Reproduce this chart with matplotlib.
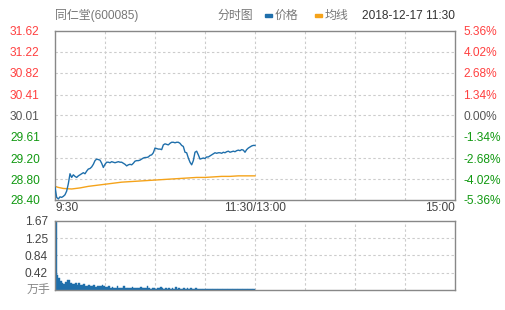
import matplotlib
matplotlib.use('Agg')
import matplotlib.pyplot as plt
from matplotlib.patches import Rectangle
import numpy as np

plt.rcParams['font.family'] = ['Liberation Sans', 'Noto Sans CJK SC', 'DejaVu Sans']

# ---- data ----
stock_name = "同仁堂(600085)"
chart_date = "2018-12-17 11:30"
pre_close = 30.01

# minute prices 9:30 -> 11:30 (121 points)
price = [
    28.64, 28.45, 28.42, 28.46, 28.45, 28.47, 28.50, 28.57, 28.71, 28.90,
    28.83, 28.88, 28.85, 28.83, 28.86, 28.88, 28.90, 28.92, 28.90, 28.95,
    28.99, 29.00, 29.03, 29.08, 29.15, 29.18, 29.17, 29.16, 29.10, 29.02,
    29.08, 29.12, 29.12, 29.11, 29.13, 29.12, 29.11, 29.12, 29.13, 29.12,
    29.12, 29.10, 29.08, 29.05, 29.07, 29.08, 29.07, 29.10, 29.14, 29.15,
    29.15, 29.16, 29.18, 29.20, 29.21, 29.21, 29.22, 29.25, 29.26, 29.30,
    29.39, 29.38, 29.37, 29.37, 29.36, 29.45, 29.47, 29.46, 29.45, 29.48,
    29.50, 29.50, 29.49, 29.50, 29.50, 29.48, 29.44, 29.42, 29.31, 29.30,
    29.20, 29.12, 29.07, 29.15, 29.31, 29.33, 29.26, 29.18, 29.19, 29.20,
    29.19, 29.22, 29.22, 29.24, 29.26, 29.28, 29.30, 29.29, 29.30, 29.30,
    29.29, 29.31, 29.30, 29.32, 29.33, 29.31, 29.32, 29.33, 29.32, 29.34,
    29.35, 29.34, 29.36, 29.35, 29.31, 29.36, 29.39, 29.41, 29.43, 29.44,
    29.44,
]

# average line, sampled minutes
avg_min = [0, 2, 5, 10, 15, 20, 25, 30, 35, 40, 45, 50, 55, 60, 65, 70,
           75, 80, 85, 90, 95, 100, 105, 110, 115, 120]
avg_price = [28.66, 28.64, 28.62, 28.61, 28.63, 28.66, 28.68, 28.70, 28.72,
             28.74, 28.75, 28.76, 28.77, 28.78, 28.79, 28.80, 28.81, 28.82,
             28.83, 28.83, 28.84, 28.85, 28.85, 28.86, 28.86, 28.86]

# volume per minute (万手)
volume = [
    1.67, 0.36, 0.30, 0.22, 0.16, 0.14, 0.20, 0.25, 0.24, 0.18,
    0.15, 0.14, 0.17, 0.13, 0.16, 0.12, 0.11, 0.14, 0.10, 0.09,
    0.13, 0.10, 0.09, 0.11, 0.08, 0.10, 0.09, 0.10, 0.12, 0.09,
    0.08, 0.07, 0.09, 0.06, 0.07, 0.05, 0.06, 0.10, 0.05, 0.06,
    0.05, 0.09, 0.05, 0.04, 0.06, 0.05, 0.08, 0.05, 0.04, 0.05,
    0.04, 0.07, 0.04, 0.05, 0.04, 0.09, 0.04, 0.03, 0.05, 0.04,
    0.03, 0.06, 0.04, 0.08, 0.04, 0.03, 0.04, 0.03, 0.05, 0.03,
    0.04, 0.03, 0.07, 0.03, 0.04, 0.03, 0.03, 0.04, 0.03, 0.06,
    0.03, 0.04, 0.03, 0.03, 0.04, 0.02, 0.03, 0.02, 0.02, 0.03,
    0.02, 0.02, 0.03, 0.02, 0.02, 0.02, 0.03, 0.02, 0.02, 0.02,
    0.02, 0.02, 0.02, 0.03, 0.02, 0.02, 0.02, 0.02, 0.02, 0.02,
    0.02, 0.02, 0.02, 0.02, 0.02, 0.02, 0.02, 0.02, 0.02, 0.02,
]

price_ticks = [31.62, 31.22, 30.82, 30.41, 30.01, 29.61, 29.20, 28.80, 28.40]
pct_labels = ["5.36%", "4.02%", "2.68%", "1.34%", "0.00%",
              "-1.34%", "-2.68%", "-4.02%", "-5.36%"]
vol_ticks = [1.67, 1.25, 0.84, 0.42]
time_labels = ["9:30", "11:30/13:00", "15:00"]

# ---- style ----
W, H = 505, 310
BLUE = '#1f6fab'
ORANGE = '#f5a31a'
RED = '#ff4040'
GREEN = '#119911'
GRID = '#cccccc'
FS = 8.6


def fx(x):
    return x / W


def fy(y):
    return 1 - y / H


def tick_color(v):
    if v > pre_close + 1e-6:
        return RED
    if v < pre_close - 1e-6:
        return GREEN
    return '#555555'


fig = plt.figure(figsize=(W / 100, H / 100), dpi=100)

ax = fig.add_axes([fx(55), fy(200), fx(400), 169 / H])
axv = fig.add_axes([fx(55), fy(290), fx(400), 69 / H])

for a in (ax, axv):
    a.set_xlim(0, 240)
    for s in a.spines.values():
        s.set_color('#888888')
        s.set_linewidth(1.0)
    a.tick_params(length=0)
    a.set_xticks([])
    for xv in range(30, 240, 30):
        a.axvline(xv, color=GRID, lw=0.8, ls=(0, (2.2, 2.2)), zorder=0)

# price panel
ax.set_ylim(price_ticks[-1], price_ticks[0])
for v in price_ticks[1:-1]:
    ax.axhline(v, color=GRID, lw=0.8, ls=(0, (2.2, 2.2)), zorder=0)
ax.plot(np.arange(len(price)), price, color=BLUE, lw=1.0, zorder=3)
ax.plot(avg_min, avg_price, color=ORANGE, lw=1.0, zorder=2)

ax.set_yticks(price_ticks)
ax.set_yticklabels(["%.2f" % v for v in price_ticks], fontsize=FS)
ax.tick_params(axis='y', pad=11)
for lab, v in zip(ax.get_yticklabels(), price_ticks):
    lab.set_color(tick_color(v))

ax2 = ax.twinx()
ax2.set_ylim(ax.get_ylim())
ax2.set_yticks(price_ticks)
ax2.set_yticklabels(pct_labels, fontsize=FS)
ax2.tick_params(length=0, pad=6)
for lab, v in zip(ax2.get_yticklabels(), price_ticks):
    lab.set_color(tick_color(v))
for s in ax2.spines.values():
    s.set_visible(False)

# time labels under price panel
tr = ax.get_xaxis_transform()
ax.text(0, -0.01, time_labels[0], transform=tr, ha='left', va='top',
        fontsize=FS, color='#444444')
ax.text(120, -0.01, time_labels[1], transform=tr, ha='center', va='top',
        fontsize=FS, color='#444444')
ax.text(240, -0.01, time_labels[2], transform=tr, ha='right', va='top',
        fontsize=FS, color='#444444')

# volume panel
axv.set_ylim(0, vol_ticks[0])
for v in vol_ticks[1:]:
    axv.axhline(v, color=GRID, lw=0.8, ls=(0, (2.2, 2.2)), zorder=0)
axv.bar(np.arange(len(volume)) + 0.5, volume, width=1.0, color=BLUE,
        edgecolor=BLUE, linewidth=0.3, zorder=2)
axv.set_yticks(vol_ticks)
axv.set_yticklabels(["%.2f" % v for v in vol_ticks], fontsize=FS,
                    color='#444444')
axv.tick_params(axis='y', pad=5)
fig.text(fx(50), fy(291), "万手", ha='right', va='center', fontsize=FS,
         color='#888888')

# header
fig.text(fx(55), fy(16), stock_name, ha='left', va='center', fontsize=FS,
         color='#777777')
fig.text(fx(218), fy(16), "分时图", ha='left', va='center', fontsize=FS,
         color='#777777')
fig.add_artist(Rectangle((fx(265), fy(17)), fx(7), 3 / H, color=BLUE,
                         transform=fig.transFigure))
fig.text(fx(275), fy(16), "价格", ha='left', va='center', fontsize=FS,
         color='#777777')
fig.add_artist(Rectangle((fx(315), fy(17)), fx(7), 3 / H, color=ORANGE,
                         transform=fig.transFigure))
fig.text(fx(325), fy(16), "均线", ha='left', va='center', fontsize=FS,
         color='#777777')
fig.text(fx(455), fy(16), chart_date, ha='right', va='center', fontsize=FS,
         color='#333333')

fig.savefig('out.png', dpi=100)
